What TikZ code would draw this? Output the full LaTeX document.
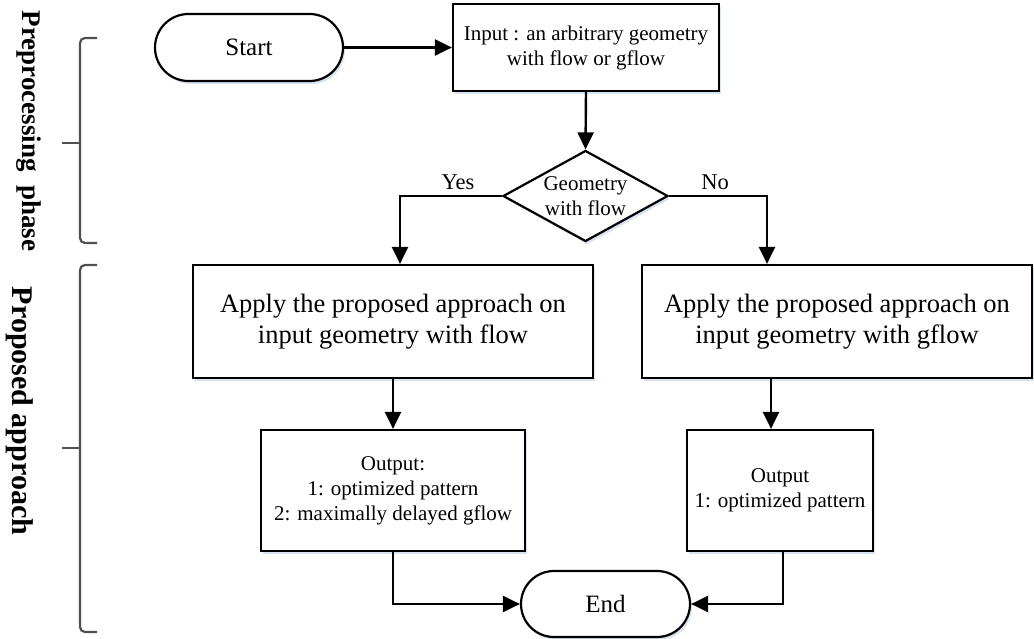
\documentclass[tikz,border=0pt]{standalone}
\usepackage{fontspec}
\setmainfont{Liberation Serif}
\usetikzlibrary{shapes.geometric,shapes.misc,arrows.meta,shadows}
\definecolor{shadowc}{RGB}{205,220,238}
\definecolor{bracec}{RGB}{80,80,80}
\begin{document}
\begin{tikzpicture}[x=1pt,y=-1pt,
  shad/.style={drop shadow={shadow xshift=2pt,shadow yshift=-3pt,fill=shadowc,opacity=0.8}},
  boxn/.style={draw=black,line width=2.2pt,fill=white,shad,inner sep=0pt,align=center},
  term/.style={boxn,rounded rectangle,font=\fontsize{25}{30}\selectfont},
  bigbox/.style={boxn,rectangle,font=\fontsize{26.5}{31}\selectfont},
  smallbox/.style={boxn,rectangle,font=\fontsize{21}{25}\selectfont},
  decn/.style={boxn,diamond,aspect=1.81,font=\fontsize{21}{25}\selectfont},
  lbl/.style={font=\fontsize{22.5}{26}\selectfont,inner sep=0pt},
  side/.style={font=\bfseries\fontsize{27}{30}\selectfont,rotate=-90,inner sep=0pt},
  arr/.style={line width=2.4pt,-{Triangle[length=17pt,width=16pt]}},
  bracel/.style={draw=bracec,line width=2.2pt,rounded corners=5pt}]
\useasboundingbox (0,0) rectangle (1034,639);

\node[term,minimum width=188pt,minimum height=67pt] (start) at (249,47.5) {Start};
\node[smallbox,minimum width=266pt,minimum height=87pt] (input) at (586,47.5) {Input : an arbitrary geometry\\with flow or gflow};
\node[decn,minimum width=165pt,minimum height=91pt] (dec) at (585.5,196) {Geometry\\with flow};
\node[bigbox,minimum width=400pt,minimum height=113pt] (boxA) at (393,321.5) {Apply the proposed approach on\\input geometry with flow};
\node[bigbox,minimum width=390pt,minimum height=113pt] (boxB) at (837,321.5) {Apply the proposed approach on\\input geometry with gflow};
\node[smallbox,minimum width=264pt,minimum height=121pt] (outA) at (393,490.5) {Output:\\1: optimized pattern\\2: maximally delayed gflow};
\node[smallbox,minimum width=186pt,minimum height=121pt] (outB) at (780,490.5) {Output\\1: optimized pattern};
\node[term,minimum width=169pt,minimum height=66pt] (end) at (605.5,604) {End};

\node[lbl] (yes) at (458,182) {Yes};
\node[lbl] (no) at (715,182) {No};

\coordinate (ya) at (400,0);
\coordinate (nb) at (767,0);
\coordinate (db) at (771,0);
\coordinate (eb) at (783,0);

\draw[arr] (start.east) -- (input.west);
\draw[arr] (input.south) -- (dec.north);
\draw[arr] (dec.west) -| (boxA.north -| ya);
\draw[arr] (dec.east) -| (boxB.north -| nb);
\draw[arr] (boxA.south) -- (outA.north);
\draw[arr] (boxB.south -| db) -- (outB.north -| db);
\draw[arr] (outA.south) |- (end.west);
\draw[arr] (outB.south -| eb) |- (end.east);

% braces
\draw[bracel] (97,38) -- (80,38) -- (80,143) -- (80,243) -- (97,243);
\draw[draw=bracec,line width=2.2pt] (62,143) -- (80,143);
\draw[bracel] (97,265) -- (80,265) -- (80,448) -- (80,632) -- (97,632);
\draw[draw=bracec,line width=2.2pt] (62,448) -- (80,448);

\node[side] (pre) at (29,131) {Preprocessing\ \ phase};
\node[side,font=\bfseries\fontsize{30}{32}\selectfont] (prop) at (20,411) {Proposed approach};
\end{tikzpicture}
\end{document}
